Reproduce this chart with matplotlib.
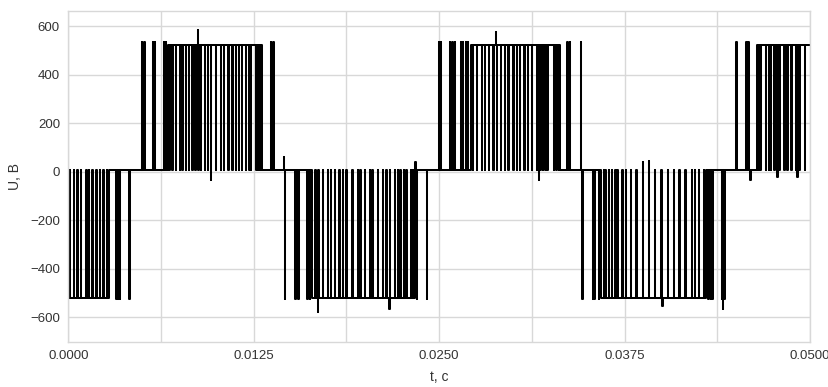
import matplotlib
matplotlib.use("Agg")
import matplotlib.pyplot as plt
from matplotlib.ticker import MultipleLocator, FormatStrFormatter

# ---- data (times in ms, voltages in V) ----
base_edges_ms = [0.0, 2.72, 6.72, 13.05, 16.42, 23.36, 27.14, 33.13, 35.90, 42.97, 46.40, 49.90]
base_levels = [-522, 8, 522, 8, -522, 8, 522, 8, -522, 8, 522]

# notches from +/-U baseline down/up to the zero level
notch_ms = [0.11, 0.38, 0.62, 0.86, 1.23, 1.40, 1.63, 1.90, 2.14, 2.37, 2.61,
            6.81, 7.03, 7.26, 7.53, 7.71, 7.93, 8.15, 8.38, 8.56, 8.79, 8.94, 9.23, 9.43,
            9.95, 10.29, 10.51, 10.81, 11.08, 11.30, 11.52, 11.70, 11.97, 12.20, 12.31,
            12.68, 12.82, 12.95,
            16.66, 16.86, 17.16, 17.50, 17.72, 17.99, 18.29, 18.51, 18.76, 19.16, 19.54,
            19.70, 19.99, 20.33, 20.51, 20.89, 21.23, 21.46, 21.70, 22.01, 22.24, 22.40,
            22.62, 22.80, 23.09, 23.23,
            27.27, 27.54, 27.88, 28.10, 28.37, 28.67, 28.90, 29.18, 29.45, 29.68, 30.01,
            30.24, 30.46, 30.75, 30.98, 31.27, 31.60, 31.83, 32.01, 32.17, 32.32, 32.73,
            32.90, 33.07,
            36.10, 36.23, 36.44, 36.66, 36.89, 37.02, 37.36, 37.58, 37.92, 38.30, 39.56,
            39.99, 40.44, 40.83, 41.22, 41.62, 42.03, 42.26, 42.53, 42.84,
            46.54, 46.68, 47.03, 47.22, 47.37, 47.60, 47.94, 48.27, 48.50, 48.77, 49.06,
            49.29, 49.66]

# narrow pulses from zero up to +U
pos_pulse_ms = [4.98, 5.12, 5.72, 5.85, 6.45, 6.58, 13.66, 13.83,
                24.98, 25.11, 25.72, 25.89, 26.06, 26.46, 26.60, 26.80, 26.93,
                33.64, 33.81, 34.55, 45.06, 45.73, 45.87]

# narrow pulses from zero down to -U
neg_pulse_ms = [3.25, 3.38, 3.50, 4.14, 14.62, 15.31, 15.51, 16.12, 16.29,
                23.50, 24.19, 34.66, 35.36, 35.49, 35.76,
                43.17, 43.31, 43.44, 44.08, 44.22]

# overshoots / spikes
spike_ms = [8.74, 9.62, 14.55, 16.83, 21.66, 23.40, 28.82, 31.72, 38.75, 39.15,
            40.05, 44.15, 46.00, 47.80, 49.17]
spike_v = [582, -32, 60, -577, -565, 40, 575, -35, 42, 45, -555, -565, -35, -22, -22]

U_pos, U_neg, U_zero = 535, -525, 8
y_ticks = [-600, -400, -200, 0, 200, 400, 600]
x_ticks = [0.0, 0.0125, 0.025, 0.0375, 0.05]

# ---- build the step signal ----
events = [(t, U_zero) for t in notch_ms]
events += [(t, U_pos) for t in pos_pulse_ms]
events += [(t, U_neg) for t in neg_pulse_ms]
events += list(zip(spike_ms, spike_v))
events.sort()

w = 0.035  # ms
t_v, u_v = [], []
for i, b in enumerate(base_levels):
    t0, t1 = base_edges_ms[i], base_edges_ms[i + 1]
    t_v.append(t0); u_v.append(b)
    for tc, lev in events:
        if t0 <= tc < t1:
            a, c = tc - w / 2, tc + w / 2
            t_v += [a, a, c, c]
            u_v += [b, lev, lev, b]
    t_v.append(t1); u_v.append(b)
t_s = [t / 1000.0 for t in t_v]

# ---- figure ----
plt.rcParams['font.family'] = ['Liberation Sans', 'DejaVu Sans']
fig = plt.figure(figsize=(8.29, 3.87), dpi=100)
ax = fig.add_axes([68.3 / 829, 1 - 341.7 / 387, (810 - 68.3) / 829, (341.7 - 11) / 387])
ax.set_facecolor('white')
ax.plot(t_s, u_v, color='black', lw=1.45)

ax.set_xlim(0, 0.05)
ax.set_ylim(-700, 662)
ax.set_xticks(x_ticks)
ax.xaxis.set_minor_locator(MultipleLocator(0.00625))
ax.xaxis.set_major_formatter(FormatStrFormatter('%.4f'))
ax.set_yticks(y_ticks)
ax.grid(True, which='both', color='#d8d8d8', lw=1.0)
ax.set_axisbelow(True)
ax.tick_params(which='both', length=0, labelsize=9.5, colors='#333333', pad=6)
for s in ax.spines.values():
    s.set_color('#d8d8d8')
    s.set_linewidth(1.0)
ax.set_xlabel('t, c', fontsize=10, color='#333333', labelpad=6)
ax.set_ylabel('U, B', fontsize=10, color='#333333', labelpad=6)

fig.savefig('out.png', dpi=100)
